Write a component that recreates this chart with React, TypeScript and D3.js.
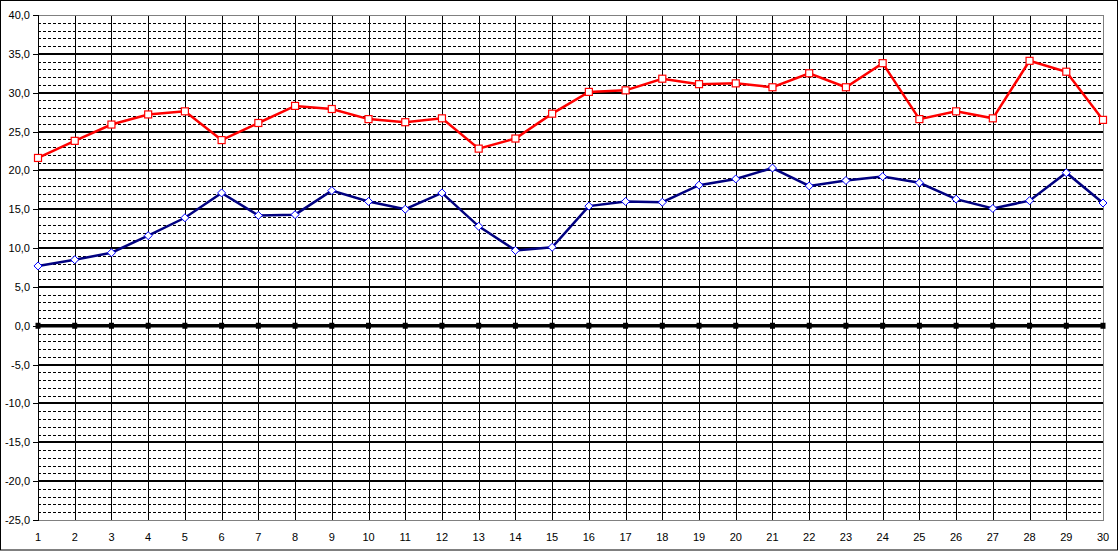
import React from 'react'
import * as d3 from 'd3'

const days = d3.range(1, 31).map(String)
const maxTemp = [
  21.6, 23.8, 25.9, 27.2, 27.6, 23.9, 26.1, 28.3, 27.9, 26.6,
  26.2, 26.7, 22.8, 24.1, 27.3, 30.1, 30.3, 31.8, 31.1, 31.2,
  30.7, 32.5, 30.7, 33.8, 26.6, 27.6, 26.7, 34.1, 32.7, 26.5,
]
const minTemp = [
  7.7, 8.5, 9.4, 11.6, 13.9, 17.1, 14.2, 14.3, 17.4, 16.0,
  15.0, 17.1, 12.8, 9.7, 10.1, 15.4, 16.0, 15.9, 18.1, 18.9,
  20.3, 18.0, 18.7, 19.2, 18.4, 16.3, 15.1, 16.1, 19.7, 15.8,
]
const zeroLine = days.map(() => 0)
const yTicks = d3.range(-25, 41, 5)

const W = 1119
const H = 552

export default function App() {
  const x = d3.scalePoint<string>().domain(days).range([38, 1103])
  const y = d3.scaleLinear().domain([-25, 40]).range([520, 15])

  const line = d3
    .line<number>()
    .x((_, i) => x(days[i]) as number)
    .y((d) => y(d))

  const minor = d3.range(-25, 41, 1).filter((v) => v % 5 !== 0)
  const fmt = (v: number) => v.toFixed(1).replace('.', ',')

  return (
    <svg
      width={W}
      height={H}
      style={{ position: 'absolute', left: 0, top: 0, background: '#fff' }}
      fontFamily="'Liberation Sans', Arial, sans-serif"
      fontSize={11}
    >
      {/* outer frame */}
      <rect x={0.5} y={0.5} width={W - 2} height={H - 2.5} fill="#fff" stroke="#000" />

      {/* minor dashed gridlines */}
      {minor.map((v) => (
        <line
          key={'m' + v}
          x1={38}
          x2={1103}
          y1={Math.round(y(v)) + 0.5}
          y2={Math.round(y(v)) + 0.5}
          stroke="#000"
          strokeWidth={1}
          strokeDasharray="3,2"
        />
      ))}

      {/* vertical gridlines */}
      {days.map((d) => (
        <line
          key={'v' + d}
          x1={Math.round(x(d) as number) + 0.5}
          x2={Math.round(x(d) as number) + 0.5}
          y1={15}
          y2={520}
          stroke="#000"
          strokeWidth={1}
        />
      ))}

      {/* major gridlines */}
      {yTicks
        .filter((v) => v !== -25 && v !== 0 && v !== 40)
        .map((v) => (
          <line
            key={'M' + v}
            x1={38}
            x2={1103}
            y1={Math.round(y(v))}
            y2={Math.round(y(v))}
            stroke="#000"
            strokeWidth={2}
          />
        ))}

      {/* plot frame: grey top, right and bottom */}
      <line x1={38} x2={1104} y1={15.5} y2={15.5} stroke="#808080" />
      <line x1={1103.5} x2={1103.5} y1={15} y2={520} stroke="#808080" />
      <line x1={38} x2={1104} y1={520.5} y2={520.5} stroke="#808080" />
      <line x1={38.5} x2={38.5} y1={15} y2={521} stroke="#000" />

      {/* y axis ticks and labels */}
      {yTicks.map((v) => (
        <g key={'t' + v} transform={`translate(0,${Math.round(y(v))})`}>
          <line x1={33} x2={38} y1={0.5} y2={0.5} stroke="#000" />
          <text x={30} y={4} textAnchor="end" fill="#000">
            {fmt(v)}
          </text>
        </g>
      ))}

      {/* x labels */}
      {days.map((d) => (
        <text key={'x' + d} x={x(d)} y={541} textAnchor="middle" fill="#000">
          {d}
        </text>
      ))}

      {/* zero series */}
      <path d={line(zeroLine) ?? ''} fill="none" stroke="#000" strokeWidth={3.5} />
      {zeroLine.map((v, i) => (
        <rect
          key={'z' + i}
          x={(x(days[i]) as number) - 2.5}
          y={y(v) - 3}
          width={5}
          height={6}
          fill="#000"
        />
      ))}

      {/* min temperature */}
      <path d={line(minTemp) ?? ''} fill="none" stroke="#000080" strokeWidth={2.5} />
      {minTemp.map((v, i) => {
        const cx = x(days[i]) as number
        const cy = y(v)
        return (
          <path
            key={'b' + i}
            d={`M${cx},${cy - 4}L${cx + 4},${cy}L${cx},${cy + 4}L${cx - 4},${cy}Z`}
            fill="#fff"
            stroke="#0000ff"
            strokeWidth={1}
          />
        )
      })}

      {/* max temperature */}
      <path d={line(maxTemp) ?? ''} fill="none" stroke="#ff0000" strokeWidth={2.5} />
      {maxTemp.map((v, i) => (
        <rect
          key={'r' + i}
          x={(x(days[i]) as number) - 3.5}
          y={y(v) - 3.5}
          width={7}
          height={7}
          fill="#fff"
          stroke="#ff0000"
          strokeWidth={1.2}
        />
      ))}
    </svg>
  )
}
